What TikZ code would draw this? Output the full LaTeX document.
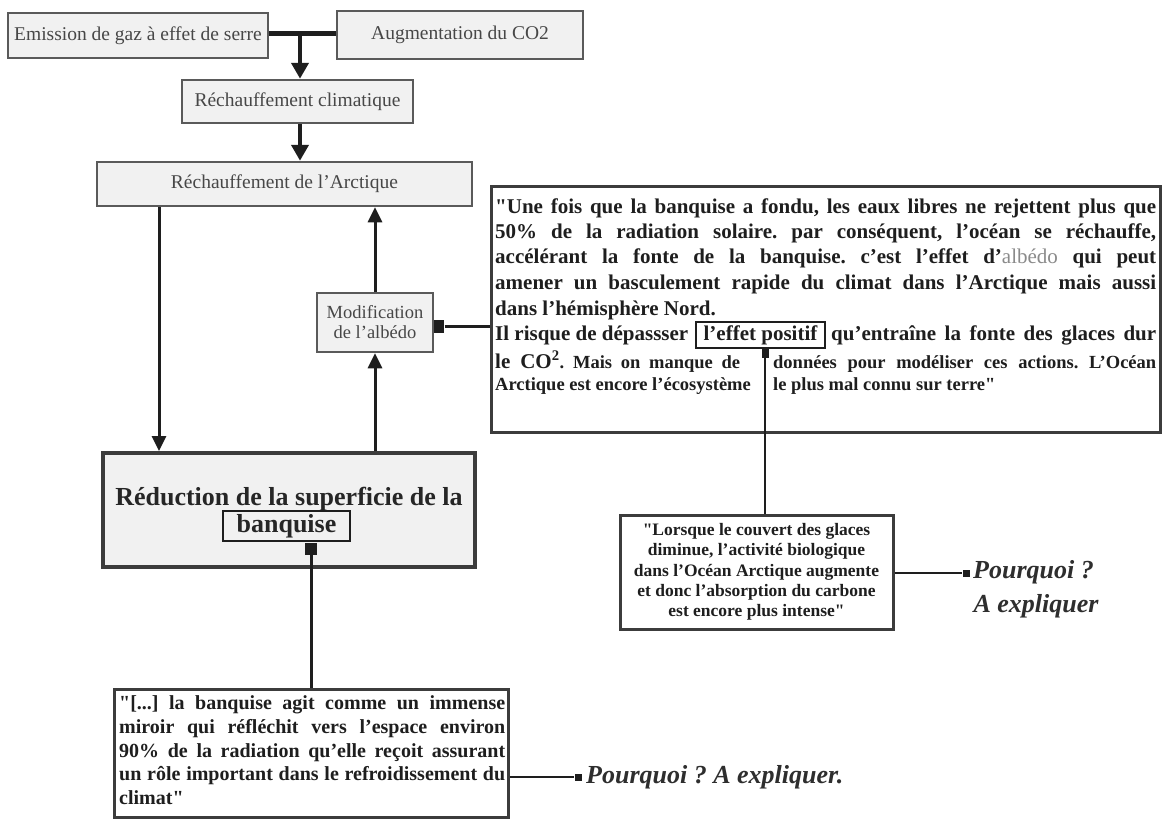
\documentclass[tikz,border=0pt]{standalone}
\usepackage{fontspec}
\setmainfont{Liberation Serif}
\newfontfamily\rawserif{Liberation Serif}[Ligatures=TeXOff]
\usetikzlibrary{arrows.meta}

\definecolor{boxline}{HTML}{5A5A5A}
\definecolor{boxfill}{HTML}{F1F1F1}
\definecolor{labtext}{HTML}{474747}
\definecolor{qline}{HTML}{3C3C3C}
\definecolor{ink}{HTML}{1E1E1E}
\definecolor{albcol}{HTML}{8A8A8A}

% font sizes (1pt = 1 unit of the drawing)
\newcommand\fLab{\fontsize{19.5}{22}\selectfont}
\newcommand\fMod{\fontsize{18.5}{20}\selectfont}
\newcommand\fQa{\fontsize{21}{24}\selectfont\bfseries}
\newcommand\fQs{\fontsize{18.5}{21}\selectfont\bfseries}
\newcommand\fQb{\fontsize{20}{24}\selectfont\bfseries}
\newcommand\fQc{\fontsize{17.5}{20.3}\selectfont\bfseries}
\newcommand\fPq{\fontsize{26}{30}\selectfont\bfseries\itshape}
\newcommand\fRed{\fontsize{26}{30}\selectfont\bfseries}
% straight double quote
\newcommand\sdq{{\rawserif"}}
% one justified line of a given width
\newcommand\jline[2]{\makebox[#1][s]{#2}}

\tikzset{
  topbox/.style={draw=boxline, line width=2.5pt, fill=boxfill, inner sep=0pt,
    align=center, text=labtext, font=\fLab},
  quotebox/.style={draw=qline, line width=3pt, fill=white, inner sep=0pt},
  ln/.style={inner sep=0pt, anchor=base west, text=ink},
  sq/.style={fill=ink, draw=none, inner sep=0pt},
  bigarrow/.style={line width=4pt, draw=ink, -{Triangle[width=17pt,length=16pt]}},
  arrow/.style={line width=3pt, draw=ink, -{Triangle[width=14pt,length=15pt]}},
  link/.style={line width=3pt, draw=ink},
  thinlink/.style={line width=1.5pt, draw=ink},
  pqt/.style={inner sep=0pt, text=black!82, font=\fPq},
}

\begin{document}
\frenchspacing
\begin{tikzpicture}[x=1pt,y=-1pt]
\fill[white] (0,0) rectangle (1165,823);
\useasboundingbox (0,0) rectangle (1165,823);

% --- causes and warming chain
\node[topbox, minimum width=260pt, minimum height=45pt] (emis) at (138,35.5) {Emission de gaz à effet de serre};
\node[topbox, minimum width=246pt, minimum height=48pt] (augm) at (460,35) {Augmentation du CO2};
\node[topbox, minimum width=231pt, minimum height=43pt] (rc) at (297.5,101.5) {Réchauffement climatique};
\node[topbox, minimum width=375pt, minimum height=44pt] (arct) at (284.5,184) {Réchauffement de l'Arctique};
\node[topbox, minimum width=116pt, minimum height=59pt, font=\fMod] (modif) at (375,322.5) {Modification\\de l'albédo};

\coordinate (jn) at (300,33);
\draw[line width=5pt, draw=ink] (emis.east |- jn) -- (augm.west |- jn);
\draw[bigarrow] (jn) -- (rc.north -| jn);
\draw[bigarrow] (rc.south -| jn) -- (arct.north -| jn);

% --- sea ice reduction
\node[draw=qline, line width=4pt, fill=boxfill, minimum width=372pt, minimum height=114pt, inner sep=0pt] (red) at (289,510) {};
\node[inner sep=0pt, anchor=base, text=black!85, font=\fRed] (redt) at (289,505) {Réduction de la superficie de la};
\node[draw=ink, line width=2pt, inner sep=0pt, minimum width=127pt, minimum height=30pt, text=black!85, font=\fRed] (banq) at (286.5,526) {banquise};

\coordinate (la) at (159,0);
\draw[arrow] (arct.south -| la) -- (red.north -| la);
\draw[arrow] (red.north -| modif) -- (modif.south);
\draw[arrow] (modif.north) -- (arct.south -| modif);

% --- albedo quote
\node[quotebox, minimum width=669pt, minimum height=246pt] (q1) at (825.5,309) {};
\node[sq, minimum width=10pt, minimum height=13pt, anchor=west] (mm) at (modif.east |- 0,326) {};
\draw[link] (mm.east) -- (q1.west |- mm);

\node[ln] (q1a) at (495,213) {\fQa\jline{661pt}{\sdq Une fois que la banquise a fondu, les eaux libres ne rejettent plus que}};
\node[ln] (q1b) at (495,238) {\fQa\jline{661pt}{50\% de la radiation solaire. par conséquent, l'océan se réchauffe,}};
\node[ln] (q1c) at (495,263) {\fQa\jline{661pt}{accélérant la fonte de la banquise. c'est l'effet d'{\mdseries\color{albcol}albédo} qui peut}};
\node[ln] (q1d) at (495,289) {\fQa\jline{661pt}{amener un basculement rapide du climat dans l'Arctique mais aussi}};
\node[ln] (q1e) at (495,315) {\fQa dans l'hémisphère Nord.};
\node[ln] (q1f) at (495,340) {\fQa Il risque de dépassser};
\node[draw=ink, line width=1.8pt, inner sep=0pt, minimum width=129pt, minimum height=26pt, text=ink, font=\fQa] (effet) at (760.5,335) {l'effet positif};
\node[ln] (q1g) at (831,340) {\fQa\jline{325pt}{qu'entraîne la fonte des glaces dur}};
\node[ln] (q1h) at (495,368) {\jline{245pt}{{\fQa le CO\textsuperscript{2}}{\fQs. Mais on manque de}}};
\node[ln] (q1i) at (773,368) {\fQs\jline{383pt}{données pour modéliser ces actions. L'Océan}};
\node[ln] (q1j) at (495,390) {\fQs Arctique est encore l'écosystème};
\node[ln] (q1k) at (773,390) {\fQs le plus mal connu sur terre\sdq};

% --- biological activity quote
\node[quotebox, minimum width=273pt, minimum height=114pt, align=center, text=ink, font=\fQc] (q3) at (756.5,572)
  {\sdq Lorsque le couvert des glaces\\diminue, l'activité biologique\\dans l'Océan Arctique augmente\\et donc l'absorption du carbone\\est encore plus intense\sdq};
\node[sq, minimum width=7pt, minimum height=9pt, anchor=north] (em) at (765,349) {};
\draw[thinlink] (em.south) -- (q3.north -| em);
\node[sq, minimum size=7pt] (pm1) at (966,573) {};
\draw[thinlink] (q3.east |- pm1) -- (pm1.west);
\node[pqt, anchor=base west] (pq1a) at (973,578) {Pourquoi ?};
\node[pqt, anchor=base] (pq1b) at (1036,612) {A expliquer};

% --- mirror quote
\node[quotebox, minimum width=394pt, minimum height=128pt] (q2) at (311,753) {};
\node[sq, minimum width=12pt, minimum height=12pt, anchor=north] (bm) at (311,543) {};
\draw[link] (bm.south) -- (q2.north -| bm);
\node[ln] (q2a) at (119,709) {\fQb\jline{386pt}{\sdq[...] la banquise agit comme un immense}};
\node[ln] (q2b) at (119,733) {\fQb\jline{386pt}{miroir qui réfléchit vers l'espace environ}};
\node[ln] (q2c) at (119,757) {\fQb\jline{386pt}{90\% de la radiation qu'elle reçoit assurant}};
\node[ln] (q2d) at (119,780) {\fQb\jline{386pt}{un rôle important dans le refroidissement du}};
\node[ln] (q2e) at (119,804) {\fQb climat\sdq};
\node[sq, minimum size=7pt] (pm2) at (578,777) {};
\draw[thinlink] (q2.east |- pm2) -- (pm2.west);
\node[pqt, anchor=base west] (pq2) at (586,783) {Pourquoi ? A expliquer.};
\end{tikzpicture}
\end{document}
